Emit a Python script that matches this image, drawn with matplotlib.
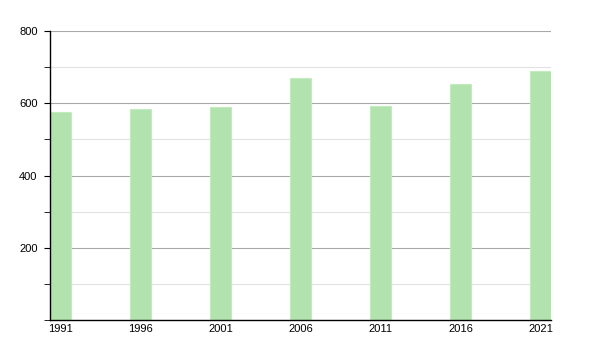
import matplotlib
matplotlib.use("Agg")
import matplotlib.pyplot as plt
from matplotlib.ticker import MultipleLocator

years = [1991, 1996, 2001, 2006, 2011, 2016, 2021]
values = [576, 584, 590, 670, 592, 653, 690]
y_ticks = [200, 400, 600, 800]

plt.rcParams['font.family'] = ['Liberation Sans', 'DejaVu Sans']

fig = plt.figure(figsize=(6, 3.5), dpi=100)
ax = fig.add_axes([50/600, 30/350, 501/600, 289/350])

ax.bar(years, values, width=1.3, color='#b2e3ae', edgecolor='#c4eac0', linewidth=0.8, zorder=2)

ax.set_xlim(1990.35, 2021.65)
ax.set_ylim(0, 800)
ax.set_xticks(years)
ax.set_xticklabels([str(y) for y in years])
ax.set_yticks(y_ticks)
ax.yaxis.set_minor_locator(MultipleLocator(100))
ax.grid(axis='y', which='major', color='#a8a8a8', linewidth=0.8, zorder=0)
ax.grid(axis='y', which='minor', color='#e2e2e2', linewidth=0.8, zorder=0)

for s in ['top', 'right']:
    ax.spines[s].set_visible(False)
ax.spines['left'].set_linewidth(1.0)
ax.spines['bottom'].set_linewidth(1.0)
ax.tick_params(axis='x', length=0, labelsize=8, pad=3)
ax.tick_params(axis='y', which='major', length=4, labelsize=8, pad=5)
ax.tick_params(axis='y', which='minor', length=4)

fig.savefig('out.png', dpi=100)
